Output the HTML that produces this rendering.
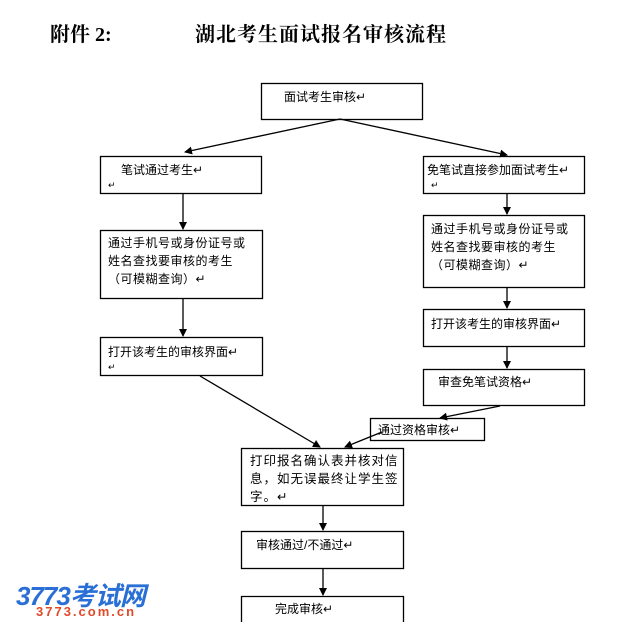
<!DOCTYPE html>
<html><head><meta charset="utf-8"><style>
body{margin:0;width:627px;height:639px;background:#fff;position:relative;overflow:hidden;font-family:"Liberation Sans","Noto Sans CJK SC",sans-serif;}
.t{position:absolute;font-size:12px;color:#000;line-height:18px;white-space:nowrap}
.h{position:absolute;font-family:"Liberation Serif","Noto Serif CJK SC",serif;font-weight:bold;font-size:20px;top:18px}
</style></head><body>
<div class="h" style="left:50px">附件 2:</div>
<div class="h" style="left:195px;letter-spacing:1px">湖北考生面试报名审核流程</div>
<svg width="627" height="639" style="position:absolute;left:0;top:0">
<defs><marker id="a" markerWidth="8" markerHeight="8" refX="7" refY="4" orient="auto" markerUnits="userSpaceOnUse"><path d="M0,0L8,4L0,8z" fill="#000"/></marker></defs>
<g fill="none" stroke="#000" stroke-width="1.3">
<rect x="261.5" y="83.5" width="161" height="36"/>
<rect x="100.5" y="156.5" width="161" height="37"/>
<rect x="423.5" y="156.5" width="161" height="37"/>
<rect x="100.5" y="230.5" width="162" height="68"/>
<rect x="423.5" y="215.5" width="161" height="72"/>
<rect x="100.5" y="337.5" width="162" height="38"/>
<rect x="423.5" y="309.5" width="161" height="37"/>
<rect x="423.5" y="369.5" width="161" height="36"/>
<rect x="370.5" y="418.5" width="114" height="22"/>
<rect x="241.5" y="448.5" width="162" height="57"/>
<rect x="241.5" y="531.5" width="162" height="37"/>
<path d="M241.5,622V596.5H403.5V622"/>
<g marker-end="url(#a)">
<line x1="340" y1="119" x2="185" y2="152"/>
<line x1="340" y1="119" x2="507" y2="155"/>
<line x1="183" y1="194" x2="183" y2="229"/>
<line x1="507" y1="194" x2="507" y2="214"/>
<line x1="183" y1="299" x2="183" y2="336"/>
<line x1="507" y1="288" x2="507" y2="308"/>
<line x1="507" y1="347" x2="507" y2="368"/>
<line x1="200" y1="376" x2="320" y2="447"/>
<line x1="500" y1="406" x2="440" y2="418"/>
<line x1="382" y1="432" x2="345" y2="447"/>
<line x1="323" y1="506" x2="323" y2="530"/>
<line x1="323" y1="569" x2="323" y2="595"/>
</g></g></svg>
<div class="t" style="left:284px;top:88px">面试考生审核↵</div>
<div class="t" style="left:121px;top:161px">笔试通过考生↵</div>
<div class="t" style="left:108px;top:176px;font-size:9px">↵</div>
<div class="t" style="left:427px;top:161px">免笔试直接参加面试考生↵</div>
<div class="t" style="left:431px;top:176px;font-size:9px">↵</div>
<div class="t" style="left:108px;top:234px;letter-spacing:0.5px">通过手机号或身份证号或<br>姓名查找要审核的考生<br>（可模糊查询）↵</div>
<div class="t" style="left:431px;top:220px;letter-spacing:0.5px">通过手机号或身份证号或<br>姓名查找要审核的考生<br>（可模糊查询）↵</div>
<div class="t" style="left:108px;top:343px">打开该考生的审核界面↵</div>
<div class="t" style="left:108px;top:358px;font-size:9px">↵</div>
<div class="t" style="left:431px;top:315px">打开该考生的审核界面↵</div>
<div class="t" style="left:438px;top:373px">审查免笔试资格↵</div>
<div class="t" style="left:378px;top:421px">通过资格审核↵</div>
<div class="t" style="left:250px;top:452px;font-size:12.5px;letter-spacing:1px">打印报名确认表并核对信<br>息，如无误最终让学生签<br>字。↵</div>
<div class="t" style="left:256px;top:536px">审核通过/不通过↵</div>
<div class="t" style="left:275px;top:600px">完成审核↵</div>
<div style="position:absolute;left:16px;top:576px;font:italic bold 26px 'Liberation Sans','Noto Sans CJK SC',sans-serif;color:#2a6fd6;letter-spacing:-1px">3773考试网</div>
<div style="position:absolute;left:36px;top:604px;font:bold 13px 'Liberation Sans',sans-serif;color:#e04a2a;letter-spacing:2px">3773.com.cn</div>
</body></html>
